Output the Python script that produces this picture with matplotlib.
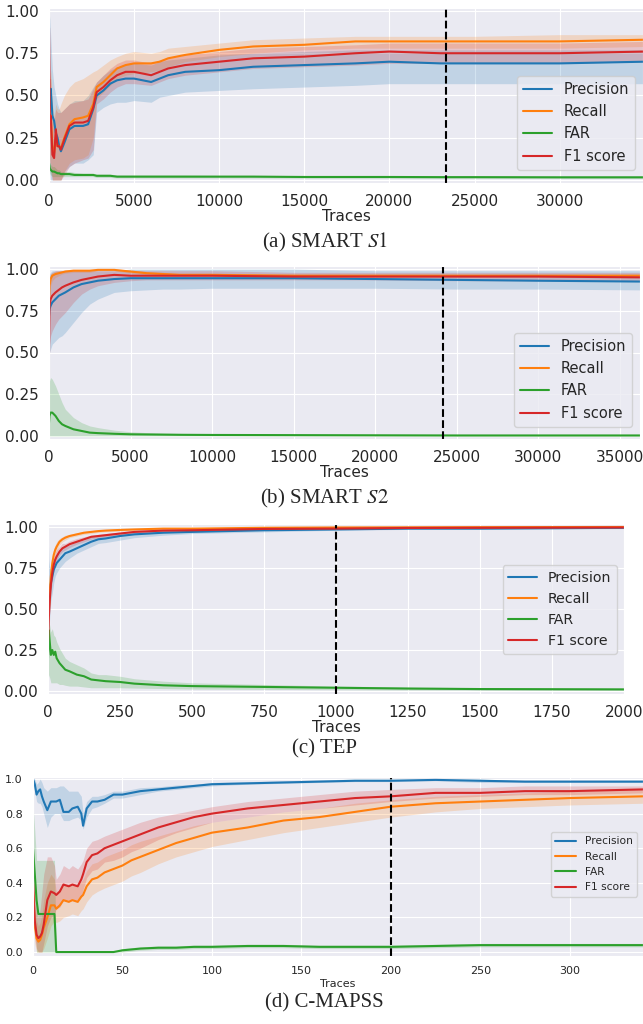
import matplotlib
matplotlib.use("Agg")
import matplotlib.pyplot as plt
import seaborn as sns

sns.set_style("darkgrid")
plt.rcParams['font.family'] = ['DejaVu Sans']
plt.rcParams['mathtext.fontset'] = 'stix'

labels = ['Precision', 'Recall', 'FAR', 'F1 score']
colors = ['tab:blue', 'tab:orange', 'tab:green', 'tab:red']

# ---------- (a) SMART S1 ----------
a_x = [0, 50, 100, 200, 300, 400, 500, 600, 700, 900, 1200, 1500, 2000, 2300, 2600, 2800, 3200,
       3600, 4000, 4500, 5000, 6000, 6500, 7000, 8000, 10000, 12000, 15000, 18000, 20000, 23000,
       25000, 30000, 35000]
a_prec = [.40, .45, .54, .38, .35, .28, .25, .20, .17, .22, .30, .32, .32, .33, .42, .50, .53, .57,
          .59, .60, .60, .58, .60, .62, .64, .65, .67, .68, .69, .70, .69, .69, .69, .70]
a_prec_lo = [.10, .05, 0, 0, 0, 0, 0, 0, 0, .05, .08, .10, .10, .12, .15, .40, .43, .45, .46, .46,
             .47, .46, .49, .50, .52, .53, .54, .55, .56, .57, .57, .57, .57, .57]
a_prec_hi = [1.0, .95, .85, .65, .55, .50, .45, .42, .40, .42, .45, .47, .47, .50, .55, .58, .62,
             .65, .67, .68, .69, .68, .70, .71, .72, .74, .75, .76, .77, .77, .77, .77, .77, .77]
a_rec = [.40, .35, .38, .20, .16, .25, .20, .20, .19, .25, .33, .36, .37, .38, .45, .55, .58, .62,
         .66, .68, .69, .69, .70, .72, .74, .77, .79, .80, .82, .82, .82, .82, .82, .83]
a_rec_lo = [.20, .10, .10, 0, 0, 0, 0, 0, 0, .05, .10, .12, .13, .15, .25, .48, .52, .56, .60, .62,
            .63, .64, .65, .67, .70, .73, .75, .77, .78, .78, .78, .78, .78, .79]
a_rec_hi = [.60, .60, .65, .45, .38, .45, .42, .42, .45, .50, .55, .58, .60, .62, .64, .65, .68,
            .71, .73, .75, .76, .75, .76, .78, .79, .81, .83, .84, .85, .85, .85, .85, .86, .86]
a_far = [.10, .07, .06, .05, .05, .045, .04, .04, .035, .035, .035, .03, .03, .03, .03, .025, .025,
         .025, .02, .02, .02, .02, .02, .02, .02, .02, .02, .018, .018, .018, .017, .017, .016, .016]
a_far_lo = [.06, .04, .03, .02, .02, .02, .02, .02, .02, .02, .02, .02, .02, .02, .02, .015, .015,
            .015, .012, .012, .012, .012, .012, .012, .012, .012, .012, .011, .011, .011, .01, .01,
            .01, .01]
a_far_hi = [.12, .10, .09, .08, .08, .07, .06, .06, .05, .05, .05, .045, .04, .04, .04, .035, .035,
            .035, .03, .03, .03, .03, .03, .03, .03, .028, .028, .026, .026, .025, .024, .024,
            .023, .023]
a_f1 = [.90, .35, .38, .15, .13, .30, .20, .20, .18, .24, .32, .34, .34, .35, .43, .52, .55, .59,
        .62, .64, .64, .62, .64, .66, .68, .70, .72, .73, .75, .76, .75, .75, .75, .76]
a_f1_lo = [.30, .10, .05, 0, 0, 0, 0, 0, 0, .03, .08, .10, .12, .13, .18, .45, .48, .52, .55, .57,
           .57, .56, .58, .60, .62, .64, .66, .67, .68, .69, .69, .69, .69, .70]
a_f1_hi = [.95, .60, .60, .40, .35, .42, .40, .40, .40, .42, .45, .46, .47, .48, .54, .58, .62, .66,
           .69, .71, .71, .69, .71, .72, .74, .76, .78, .79, .80, .81, .81, .81, .81, .82]

# ---------- (b) SMART S2 ----------
b_x = [0, 30, 100, 200, 400, 600, 800, 1000, 1500, 2000, 2500, 3000, 4000, 5000, 6000, 7000,
       8000, 10000, 15000, 20000, 25000, 30000, 36300]
b_prec = [.72, .76, .78, .80, .82, .84, .85, .86, .89, .91, .92, .93, .94, .945, .945, .945, .945,
          .945, .945, .94, .935, .93, .925]
b_prec_lo = [.50, .50, .52, .55, .57, .59, .60, .62, .68, .74, .79, .82, .86, .87, .875, .88, .88,
             .885, .885, .885, .88, .88, .875]
b_prec_hi = [.95, .97, .98, .99, .99, .99, .99, .99, .99, .99, .99, .99, .99, 1.0, 1.0, 1.0, 1.0,
             1.0, 1.0, .99, .99, .99, .99]
b_rec = [.75, .90, .94, .96, .97, .975, .98, .985, .99, .99, .99, .995, .995, .985, .975, .97, .965,
         .965, .96, .96, .96, .96, .96]
b_rec_lo = [.70, .85, .90, .93, .95, .96, .97, .975, .98, .98, .98, .99, .99, .975, .965, .96, .955,
            .955, .95, .95, .95, .95, .95]
b_rec_hi = [.80, .95, .97, .98, .985, .99, .99, .995, 1.0, 1.0, 1.0, 1.0, 1.0, .995, .985, .98,
            .975, .975, .97, .97, .97, .97, .97]
b_far = [.08, .12, .14, .14, .12, .09, .07, .06, .04, .03, .02, .017, .013, .01, .009, .008, .007,
         .006, .005, .004, .003, .003, .003]
b_far_lo = [0] * 23
b_far_hi = [.25, .33, .35, .34, .30, .25, .20, .16, .11, .08, .06, .05, .035, .025, .02, .017,
            .015, .012, .01, .008, .007, .006, .006]
b_f1 = [.50, .78, .82, .84, .86, .875, .89, .90, .92, .935, .945, .955, .965, .96, .96, .96, .96,
        .96, .955, .955, .955, .955, .95]
b_f1_lo = [0, .55, .60, .63, .67, .70, .72, .74, .80, .85, .88, .90, .92, .93, .935, .935, .935,
           .935, .935, .935, .93, .93, .93]
b_f1_hi = [1.0, .95, .97, .98, .99, .99, .99, .99, .99, .99, .99, .99, .99, .99, .99, .99, .99,
           .99, .98, .98, .98, .98, .98]

# ---------- (c) TEP ----------
c_x = [0, 3, 6, 10, 15, 20, 25, 30, 40, 50, 60, 75, 100, 125, 150, 175, 200, 250, 300, 400, 500,
       750, 1000, 1250, 1500, 2000]
c_prec = [.65, .55, .60, .66, .70, .74, .76, .78, .80, .82, .84, .85, .87, .89, .91, .925, .93,
          .945, .955, .965, .97, .98, .985, .99, .99, .995]
c_prec_lo = [.30, .35, .45, .55, .60, .66, .70, .72, .75, .77, .79, .81, .84, .86, .88, .90, .905,
             .92, .935, .95, .96, .97, .98, .985, .985, .99]
c_prec_hi = [1.0, .80, .75, .76, .78, .80, .82, .84, .86, .87, .88, .89, .91, .92, .94, .95, .955,
             .965, .97, .98, .98, .99, .99, .995, .995, 1.0]
c_rec = [.45, .50, .60, .70, .78, .83, .86, .88, .91, .925, .935, .945, .955, .965, .97, .975, .978,
         .982, .985, .99, .99, .995, .997, .998, .999, 1.0]
c_rec_lo = [.40, .45, .55, .65, .73, .79, .83, .85, .89, .91, .92, .935, .945, .955, .96, .967, .97,
            .975, .98, .985, .985, .99, .993, .995, .996, .998]
c_rec_hi = [.50, .55, .65, .75, .83, .87, .89, .91, .93, .94, .95, .955, .965, .972, .978, .982,
            .985, .988, .99, .995, .995, 1.0, 1.0, 1.0, 1.0, 1.0]
c_far = [.20, .37, .30, .22, .25, .22, .24, .20, .17, .15, .13, .12, .10, .09, .07, .065, .06,
         .055, .045, .035, .03, .025, .02, .015, .012, .01]
c_far_lo = [.05, .10, .08, .05, .05, .05, .05, .05, .04, .04, .035, .03, .03, .025, .02, .02, .02,
            .02, .018, .015, .012, .01, .008, .006, .005, .004]
c_far_hi = [.45, .42, .40, .36, .38, .34, .33, .30, .26, .23, .20, .18, .16, .14, .11, .10, .10,
            .09, .075, .06, .05, .04, .03, .025, .02, .016]
c_f1 = [.30, .45, .55, .65, .72, .77, .80, .82, .85, .87, .88, .895, .91, .925, .94, .945, .95,
        .96, .97, .978, .98, .988, .99, .994, .995, .997]
c_f1_lo = [.25, .40, .50, .60, .67, .73, .77, .79, .83, .85, .86, .875, .895, .91, .925, .935, .94,
           .95, .96, .97, .975, .983, .987, .99, .992, .995]
c_f1_hi = [.50, .55, .62, .70, .77, .81, .84, .86, .88, .90, .90, .915, .93, .94, .95, .955, .96,
           .97, .978, .985, .988, .993, .995, .998, .999, 1.0]

# ---------- (d) C-MAPSS ----------
d_x = [0, 1, 2, 3, 4, 5, 6, 8, 10, 12, 13, 15, 17, 20, 22, 25, 27, 28, 30, 33, 36, 40, 45, 50, 55,
       60, 70, 80, 90, 100, 120, 140, 160, 180, 200, 225, 250, 275, 300, 341]
d_prec = [1.0, .97, .91, .93, .94, .90, .87, .82, .87, .87, .87, .88, .81, .81, .83, .84, .80, .73,
          .83, .87, .87, .88, .91, .91, .92, .93, .94, .95, .96, .97, .975, .98, .985, .99, .99,
          .995, .99, .985, .985, .985]
d_prec_lo = [.98, .93, .87, .86, .86, .84, .80, .72, .78, .80, .80, .80, .76, .76, .77, .78, .76,
             .71, .78, .83, .84, .86, .89, .89, .90, .91, .93, .94, .95, .96, .97, .975, .98, .985,
             .985, .99, .98, .98, .98, .98]
d_prec_hi = [1.0, 1.0, .97, .98, 1.0, .98, .95, .93, .95, .95, .95, .96, .96, .93, .93, .93, .90,
             .80, .87, .90, .90, .91, .93, .93, .94, .95, .955, .965, .97, .98, .985, .99, .995,
             1.0, 1.0, 1.0, 1.0, .99, .99, .99]
d_rec = [.35, .15, .08, .06, .07, .10, .14, .20, .27, .27, .25, .27, .30, .29, .30, .29, .32, .33,
         .38, .42, .43, .46, .48, .50, .53, .55, .59, .63, .66, .69, .72, .76, .78, .81, .84, .86,
         .87, .88, .89, .90]
d_rec_lo = [.30, .05, 0, 0, 0, 0, .02, .08, .15, .18, .17, .18, .20, .21, .22, .21, .24, .25, .29,
            .33, .35, .37, .39, .41, .44, .46, .51, .55, .58, .61, .65, .69, .72, .75, .78, .81,
            .83, .84, .85, .86]
d_rec_hi = [.40, .25, .18, .15, .17, .22, .30, .40, .45, .42, .35, .36, .40, .38, .40, .38, .41,
            .42, .47, .51, .52, .55, .57, .59, .62, .64, .67, .70, .73, .75, .78, .81, .83, .86,
            .88, .90, .91, .92, .93, .94]
d_far = [.60, .45, .30, .22, .22, .22, .22, .22, .22, .22, 0, 0, 0, 0, 0, 0, 0, 0, 0, 0, 0, 0, 0,
         .01, .015, .02, .025, .025, .03, .03, .035, .035, .03, .03, .03, .035, .04, .04, .04, .04]
d_far_lo = [.40, .20, 0, 0, 0, 0, 0, 0, 0, 0, 0, 0, 0, 0, 0, 0, 0, 0, 0, 0, 0, 0, 0, 0, .005, .01,
            .015, .015, .02, .02, .025, .025, .02, .02, .02, .025, .03, .03, .03, .03]
d_far_hi = [.85, .70, .53, .53, .53, .53, .53, .53, .53, .53, 0, 0, 0, 0, 0, 0, 0, 0, 0, 0, 0, 0,
            0, .02, .025, .03, .035, .035, .04, .04, .045, .045, .04, .04, .04, .045, .05, .05,
            .05, .05]
d_f1 = [.40, .18, .10, .08, .09, .11, .16, .30, .35, .34, .33, .35, .39, .38, .39, .38, .42, .45,
        .52, .56, .57, .60, .62, .64, .66, .68, .72, .75, .78, .80, .83, .85, .87, .89, .90, .92,
        .92, .93, .93, .94]
d_f1_lo = [.30, .08, .02, 0, 0, 0, .05, .15, .20, .22, .25, .26, .30, .29, .30, .29, .32, .36,
           .43, .47, .48, .52, .53, .55, .58, .60, .65, .69, .72, .75, .78, .81, .83, .85, .87,
           .89, .90, .91, .91, .92]
d_f1_hi = [.50, .35, .25, .20, .25, .35, .45, .55, .55, .50, .42, .45, .50, .48, .50, .48, .51,
           .53, .60, .64, .65, .67, .69, .71, .73, .75, .78, .80, .82, .84, .87, .89, .91, .93,
           .94, .95, .95, .96, .96, .96]

W, H = 643, 1024
fig = plt.figure(figsize=(W / 100, H / 100), dpi=100)


def add_ax(left, top, right, bottom):
    return fig.add_axes([left / W, 1 - bottom / H, (right - left) / W, (bottom - top) / H])


def panel(ax, x, series, vline, xmax, ylim, tick_fs, leg_fs, leg_anchor, labelpad):
    for (m, lo, hi), lab, c in zip(series, labels, colors):
        ax.fill_between(x, lo, hi, color=c, alpha=0.2, lw=0)
        ax.plot(x, m, color=c, lw=1.5, label=lab)
    ax.axvline(vline, color='black', ls='--', lw=1.5)
    ax.set_xlim(0, xmax)
    ax.set_ylim(*ylim)
    ax.tick_params(labelsize=tick_fs, pad=4)
    ax.set_xlabel('Traces', fontsize=tick_fs, labelpad=labelpad)
    ax.legend(loc='upper right', bbox_to_anchor=leg_anchor, fontsize=leg_fs, borderaxespad=0)


ax = add_ax(49, 7.6, 643, 183.4)
panel(ax, a_x, [(a_prec, a_prec_lo, a_prec_hi), (a_rec, a_rec_lo, a_rec_hi),
                (a_far, a_far_lo, a_far_hi), (a_f1, a_f1_lo, a_f1_hi)],
      23300, 34900, (-0.02, 1.02), 11, 10.5, (0.9865, 0.611), 0)
ax.set_yticks([0, 0.25, 0.5, 0.75, 1.0])

ax = add_ax(49, 265.7, 640, 439.3)
panel(ax, b_x, [(b_prec, b_prec_lo, b_prec_hi), (b_rec, b_rec_lo, b_rec_hi),
                (b_far, b_far_lo, b_far_hi), (b_f1, b_f1_lo, b_f1_hi)],
      24150, 36250, (-0.02, 1.02), 11, 10.5, (0.9865, 0.612), 0)
ax.set_yticks([0, 0.25, 0.5, 0.75, 1.0])

ax = add_ax(48, 523.7, 624, 694.3)
panel(ax, c_x, [(c_prec, c_prec_lo, c_prec_hi), (c_rec, c_rec_lo, c_rec_hi),
                (c_far, c_far_lo, c_far_hi), (c_f1, c_f1_lo, c_f1_hi)],
      1000, 2000, (-0.02, 1.02), 11, 10.2, (0.988, 0.758), 0)
ax.set_yticks([0, 0.25, 0.5, 0.75, 1.0])

ax = add_ax(33, 777.3, 643, 955.5)
panel(ax, d_x, [(d_prec, d_prec_lo, d_prec_hi), (d_rec, d_rec_lo, d_rec_hi),
                (d_far, d_far_lo, d_far_hi), (d_f1, d_f1_lo, d_f1_hi)],
      200, 341, (-0.02, 1.01), 8, 7.7, (0.990, 0.693), 2)
ax.set_yticks([0, 0.2, 0.4, 0.6, 0.8, 1.0])

captions = [(r'(a) SMART $S1$', 242), (r'(b) SMART $S2$', 498), ('(c) TEP', 749),
            ('(d) C-MAPSS', 1003)]
for txt, y in captions:
    fig.text(0.505, 1 - y / H, txt, ha='center', va='center', fontsize=15,
             family='Liberation Serif')

fig.savefig('out.png', dpi=100)
